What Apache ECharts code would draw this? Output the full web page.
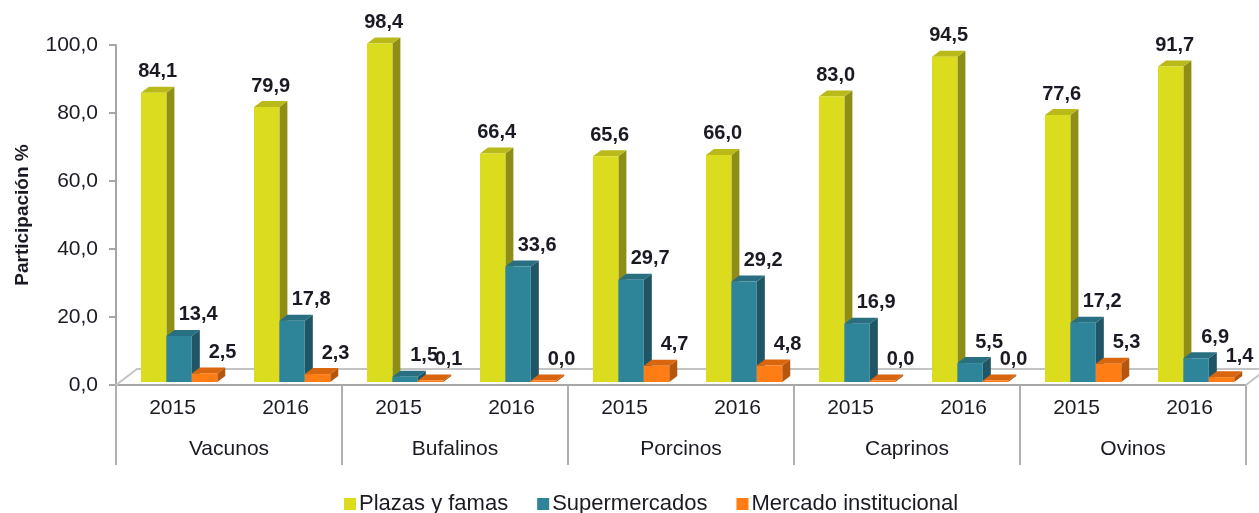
<!DOCTYPE html>
<html>
<head>
<meta charset="utf-8">
<script src="https://cdn.jsdelivr.net/npm/echarts@6/dist/echarts.min.js"></script>
<style>
html,body{margin:0;padding:0;background:#fff;}
#chart{width:1259px;height:513px;}
</style>
</head>
<body>
<div id="chart"></div>
<script>
const years = ['2015','2016','2015','2016','2015','2016','2015','2016','2015','2016'];
const groups = ['Vacunos','Bufalinos','Porcinos','Caprinos','Ovinos'];
const seriesNames = ['Plazas y famas','Supermercados','Mercado institucional'];
const plazas = [84.1,79.9,98.4,66.4,65.6,66.0,83.0,94.5,77.6,91.7];
const supermercados = [13.4,17.8,1.5,33.6,29.7,29.2,16.9,5.5,17.2,6.9];
const institucional = [2.5,2.3,0.1,0.0,4.7,4.8,0.0,0.0,5.3,1.4];

const palette = [
  {front:'#dcdc1e', side:'#8e8e16', top:'#b9ba1a', labelDx:4},
  {front:'#2e8499', side:'#1f5564', top:'#286f81', labelDx:19},
  {front:'#ff7d14', side:'#b6560c', top:'#d9650e', labelDx:18}
];
const FONT = '"Liberation Sans", Arial, sans-serif';
const TXT = '#1a1a24';

function fmt(v){ return v.toFixed(1).replace('.', ','); }

function makeRender(s){
  const c = palette[s];
  return function(params, api){
    const i = api.value(0), v = api.value(1);
    const base = api.coord([i, 0]);
    const topP = api.coord([i, v]);
    const band = api.size([1, 0])[0];
    const w = band * 0.225;
    const x0 = base[0] - band * 0.279 + s * w;
    const x1 = x0 + w;
    const yb = base[1] - 3;
    let yt = yb - (base[1] - topP[1]) * 1.012;
    if (yb - yt < 1.5) yt = yb - 1.5;
    const dx = 8, dy = 6;
    return {
      type:'group',
      children:[
        {type:'polygon', shape:{points:[[x1,yt],[x1+dx,yt-dy],[x1+dx,yb-dy],[x1,yb]]}, style:{fill:c.side}},
        {type:'polygon', shape:{points:[[x0,yt],[x1,yt],[x1+dx,yt-dy],[x0+dx,yt-dy]]}, style:{fill:c.top}},
        {type:'rect', shape:{x:x0, y:yt, width:w, height:yb-yt}, style:{fill:c.front}},
        {type:'text', z2:10, style:{text:fmt(v), x:(x0+x1)/2 + c.labelDx, y:yt-11, align:'center', verticalAlign:'bottom',
          font:'bold 20px ' + FONT, fill:TXT}}
      ]
    };
  };
}

function floorRender(params, api){
  const p = api.coord([0, 0]);
  const band = api.size([1, 0])[0];
  const left = p[0] - band/2;
  const right = left + band * years.length;
  const yb = p[1];
  const ddx = 21, ddy = 16;
  return {
    type:'group',
    children:[
      {type:'polyline', shape:{points:[[left,yb],[left+ddx,yb-ddy],[right+ddx,yb-ddy],[right,yb]]},
       style:{stroke:'#c4c4c4', lineWidth:2, fill:null}}
    ]
  };
}

const chart = echarts.init(document.getElementById('chart'));
const dataSets = [plazas, supermercados, institucional];
chart.setOption({
  animation:false,
  backgroundColor:'#fff',
  grid:{left:116, right:13, top:45, bottom:128, containLabel:false},
  legend:{
    data:seriesNames, left:344, top:493, padding:0, icon:'rect', itemWidth:12, itemHeight:12, itemGap:29,
    textStyle:{fontFamily:FONT, fontSize:22, color:TXT, padding:[0,0,0,-2]}
  },
  xAxis:[
    {type:'category', data:years, gridIndex:0,
     axisLine:{show:true, lineStyle:{color:'#a6a6a6', width:2}},
     axisTick:{show:false},
     axisLabel:{fontFamily:FONT, fontSize:21, color:TXT, margin:13}},
    {type:'category', data:groups, gridIndex:0, position:'bottom',
     axisLine:{show:false},
     axisTick:{show:true, length:80, lineStyle:{color:'#b0b0b0', width:2}},
     axisLabel:{fontFamily:FONT, fontSize:21, color:TXT, margin:54}}
  ],
  yAxis:{
    type:'value', min:0, max:100, interval:20,
    name:'Participación %', nameLocation:'middle', nameGap:84, nameRotate:90,
    nameTextStyle:{fontFamily:FONT, fontSize:19, fontWeight:'bold', color:TXT},
    axisLine:{show:true, lineStyle:{color:'#a6a6a6', width:2}},
    axisTick:{show:true, length:7, lineStyle:{color:'#a6a6a6', width:2}},
    splitLine:{show:false},
    axisLabel:{fontFamily:FONT, fontSize:21, color:TXT, margin:18, formatter:fmt}
  },
  series:[
    {type:'custom', name:'floor', renderItem:floorRender, data:[[0,0]], clip:false, z:1, silent:true,
     encode:{x:0,y:1}},
  ].concat(dataSets.map((arr, s) => ({
    type:'custom', name:seriesNames[s], z:2+s, clip:false,
    itemStyle:{color:palette[s].front},
    renderItem:makeRender(s),
    encode:{x:0, y:1},
    data:arr.map((v, i) => [i, v])
  })))
});
</script>
</body>
</html>
